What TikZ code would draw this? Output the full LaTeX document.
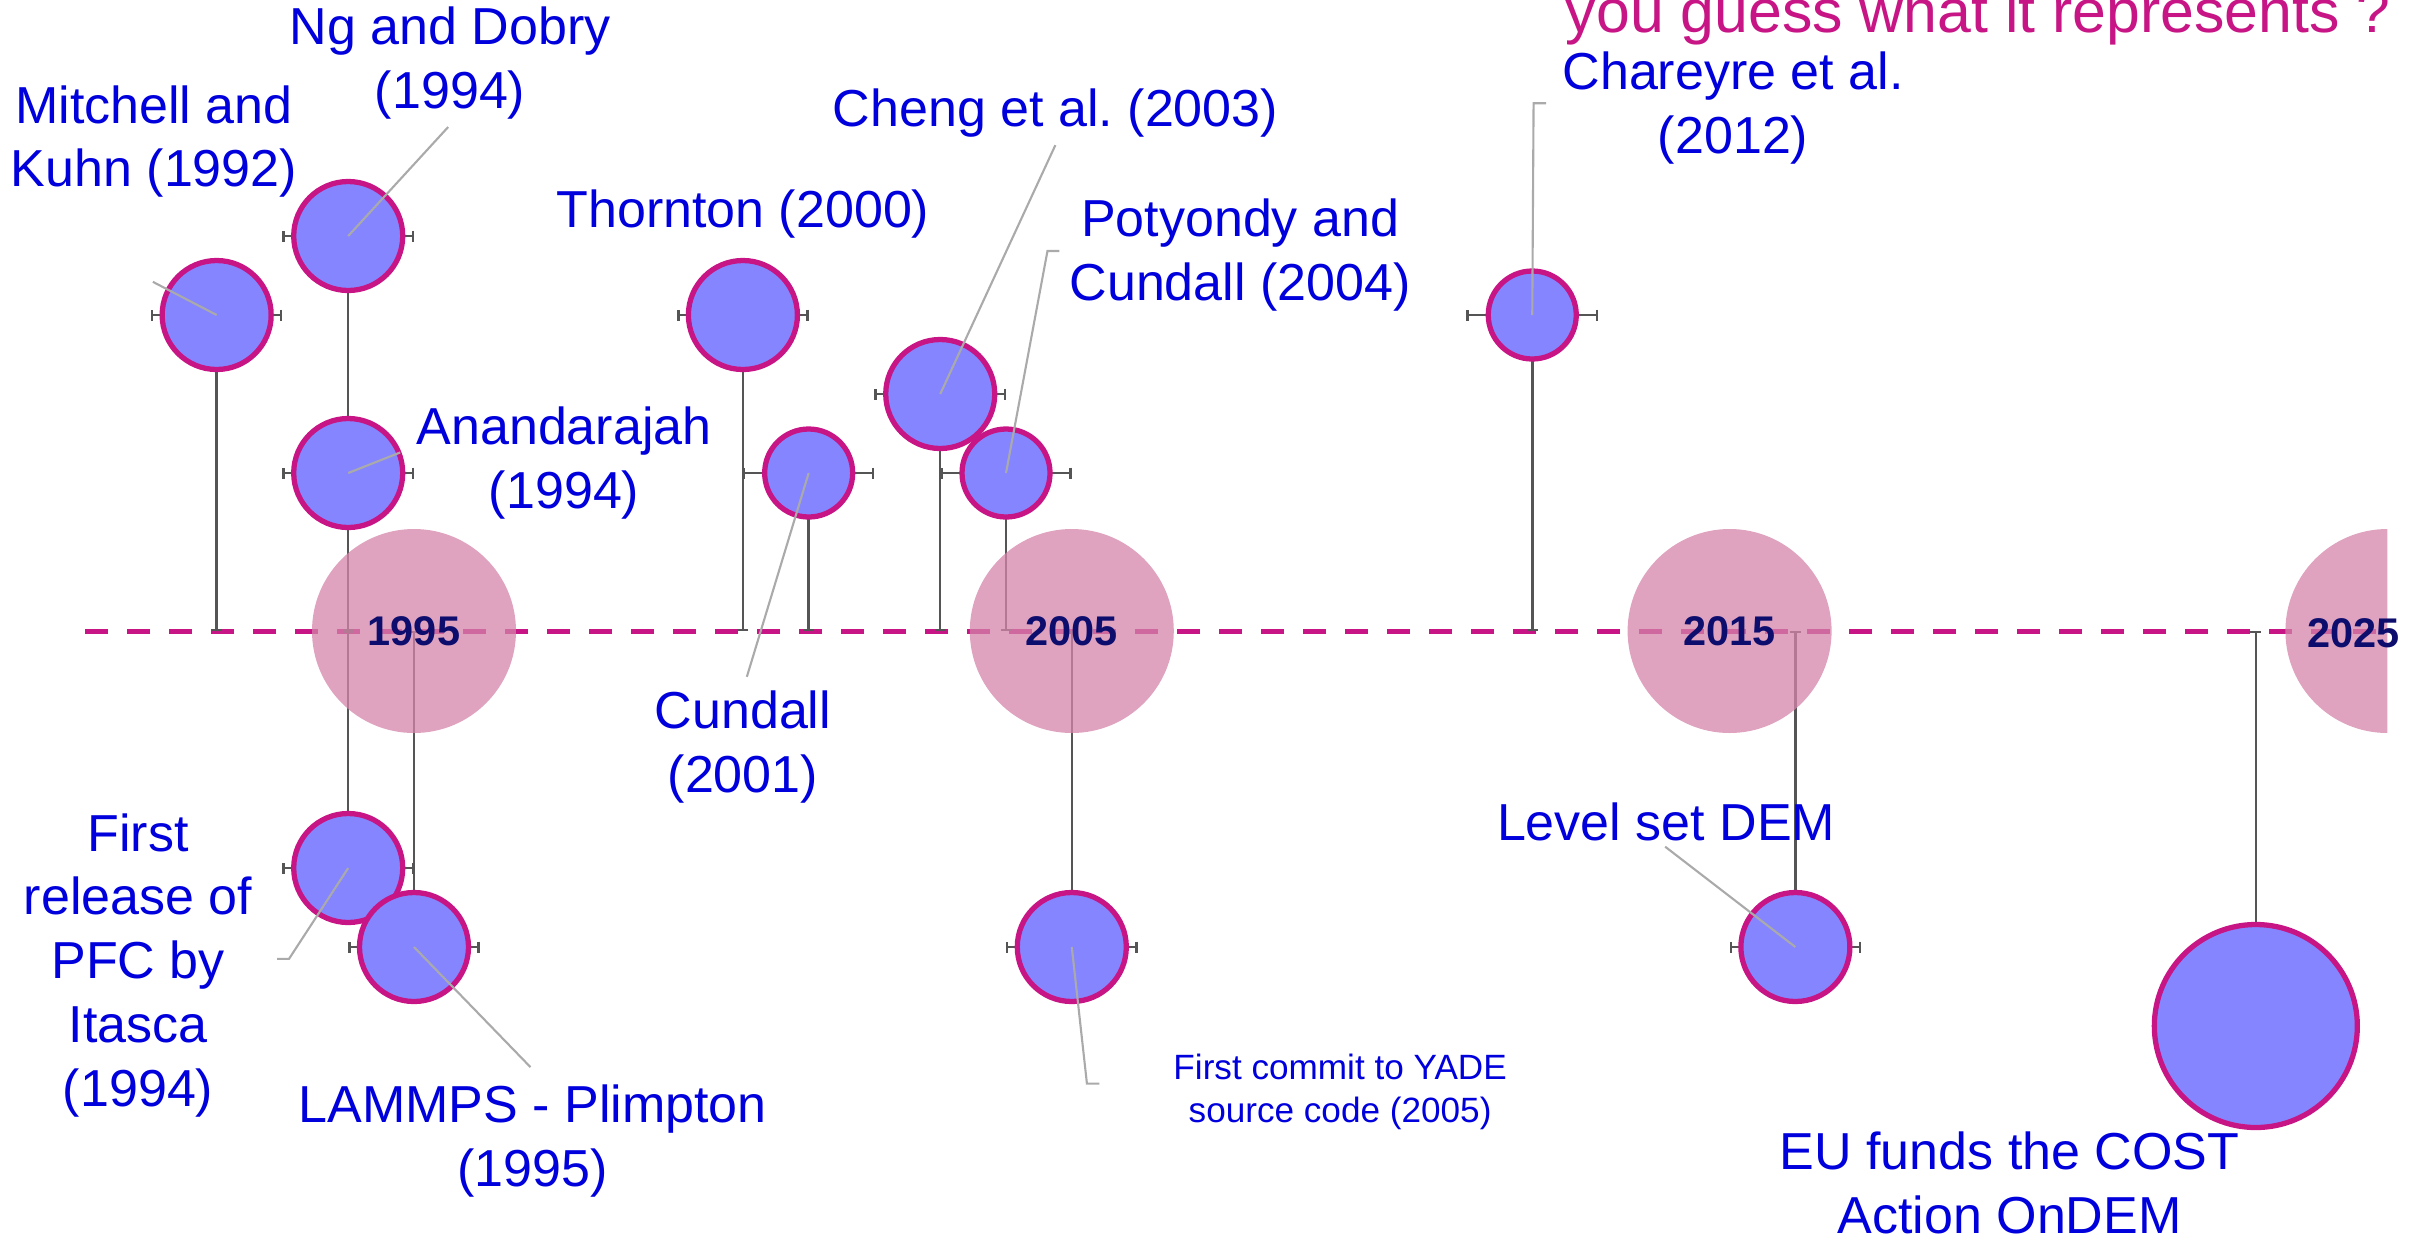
\documentclass[tikz,border=0pt]{standalone}
\usepackage{fontspec}
\setmainfont{Liberation Sans}
\usepackage{tikz}
\usetikzlibrary{calc,arrows.meta,backgrounds}
\frenchspacing

\definecolor{mvred}{RGB}{199,21,133}
\definecolor{dotblue}{RGB}{133,133,255}
\definecolor{txtblue}{RGB}{0,0,220}
\definecolor{yrpink}{RGB}{212,132,170}
\definecolor{yrnavy}{RGB}{13,13,110}
\definecolor{stemgray}{RGB}{85,85,85}
\definecolor{leadgray}{RGB}{170,170,170}

\begin{document}
\begin{tikzpicture}[x=6.578mm, y=7.9mm]
% Timeline style
\tikzset{
    evdot/.style={circle, draw=mvred, line width=1.5pt, fill=dotblue, minimum size=10.9mm, inner sep=0pt},
    evsmall/.style={evdot, minimum size=8.8mm},
    evbig/.style={evdot, minimum size=20.3mm},
    yrdisc/.style={circle, fill=yrpink, fill opacity=0.75, minimum size=20.4mm, inner sep=0pt},
    yrtext/.style={text=yrnavy, font=\fontsize{11.8}{14}\selectfont\bfseries, inner sep=0pt},
    evtext/.style={text=txtblue, align=center, inner sep=0pt, font=\fontsize{14.8}{18.2}\selectfont},
    evstem/.style={draw=stemgray, line width=0.7pt, -{Bar[width=1.1mm]}},
    evbar/.style={draw=stemgray, line width=0.7pt, {Bar[width=1.1mm]}-{Bar[width=1.1mm]}},
    evlead/.style={draw=leadgray, line width=0.6pt},
    tline/.style={draw=mvred, line width=1.42pt, dash pattern=on 2.33mm off 1.87mm}
}

% Canvas
\path[use as bounding box, clip] (-0.851cm,-6.09cm) rectangle (23.449cm,6.31cm);
\coordinate (O) at (0,0);

% Events
\node[evdot] (MK) at (2,4) {};
\node[evdot] (ND) at (4,5) {};
\node[evdot] (AN) at (4,2) {};
\node[evdot] (TH) at (10,4) {};
\node[evsmall] (CU) at (11,2) {};
\node[evdot] (CH) at (13,3) {};
\node[evsmall] (PC) at (14,2) {};
\node[evsmall] (CY) at (22,4) {};
\node[evdot] (PFC) at (4,-3) {};
\node[evdot] (LMP) at (5,-4) {};
\node[evdot] (YA) at (15,-4) {};
\node[evdot] (LS) at (26,-4) {};
\node[evbig] (EU) at (33,-5) {};

% Axis, stems and error bars
\begin{scope}[on background layer]
\draw[tline] (O) -- (35,0);
\foreach \n in {MK,ND,AN,TH,CU,CH,PC,CY,PFC,LMP,YA,LS,EU}{
    \draw[evstem] (\n.center) -- (\n |- O);
    \draw[evbar] ($(\n)+(-1,0)$) -- ($(\n)+(1,0)$);
}
\end{scope}

% Leaders
\coordinate (MKe) at (1.03,4.42);
\coordinate (NDe) at (5.52,6.38);
\coordinate (ANe) at (4.79,2.26);
\coordinate (CUe) at (10.06,-0.58);
\coordinate (CHe) at (14.75,6.15);
\coordinate (PCe) at (14.63,4.81);
\coordinate (CYe) at (22.02,6.68);
\coordinate (PFCe) at (3.10,-4.15);
\coordinate (LMPe) at (6.77,-5.52);
\coordinate (YAe) at (15.23,-5.73);
\coordinate (LSe) at (24.02,-2.73);
\draw[evlead] (MK.center) -- (MKe);
\draw[evlead] (ND.center) -- (NDe);
\draw[evlead] (AN.center) -- (ANe);
\draw[evlead] (CU.center) -- (CUe);
\draw[evlead] (CH.center) -- (CHe);
\draw[evlead] (PC.center) -- (PCe) -- ++(0.18,0);
\draw[evlead] (CY.center) -- (CYe) -- ++(0.19,0);
\draw[evlead] (PFC.center) -- (PFCe) -- ++(-0.18,0);
\draw[evlead] (LMP.center) -- (LMPe);
\draw[evlead] (YA.center) -- (YAe) -- ++(0.19,0);
\draw[evlead] (LS.center) -- (LSe);

% Years
\begin{scope}
\clip (-2,-3) rectangle (35,3);
\node[yrdisc] (Y95) at (5,0) {};
\node[yrdisc] (Y05) at (15,0) {};
\node[yrdisc] (Y15) at (25,0) {};
\node[yrdisc] (Y25) at (35,0) {};
\end{scope}
\node[yrtext] (L95) at (Y95) {1995};
\node[yrtext] (L05) at (Y05) {2005};
\node[yrtext] (L15) at (Y15) {2015};
\node[yrtext] (L25) at (34.48,-0.025) {2025};

% Labels
\node[evtext] (MKt) at (1.047,6.196) {Mitchell and\\Kuhn (1992)};
\node[evtext] (NDt) at (5.549,7.194) {Ng and Dobry\\(1994)};
\node[evtext] (ANt) at (7.282,2.127) {Anandarajah\\(1994)};
\node[evtext] (THt) at (10,5.278) {Thornton (2000)};
\node[evtext] (CUt) at (10,-1.468) {Cundall\\(2001)};
\node[evtext] (CHt) at (14.752,6.557) {Cheng et al. (2003)};
\node[evtext] (PCt) at (17.559,4.753) {Potyondy and\\Cundall (2004)};
\node[evtext] (CYt) at (25.053,6.62) {Chareyre et al.\\(2012)};
\node[evtext] (PFCt) at (0.806,-4.234) {First\\release of\\PFC by\\Itasca\\(1994)};
\node[evtext] (LMPt) at (6.803,-6.456) {LAMMPS - Plimpton\\(1995)};
\node[evtext, font=\fontsize{10}{12.2}\selectfont] (YAt) at (19.079,-5.829) {First commit to YADE\\source code (2005)};
\node[evtext] (LSt) at (24.035,-2.418) {Level set DEM};
\node[evtext] (EUt) at (29.257,-6.984) {EU funds the COST\\Action OnDEM};
\node[anchor=base west, text=mvred, inner sep=0pt, font=\fontsize{17.3}{20}\selectfont] (Q) at (22.50,7.58) {you guess what it represents ?};

\end{tikzpicture}
\end{document}
